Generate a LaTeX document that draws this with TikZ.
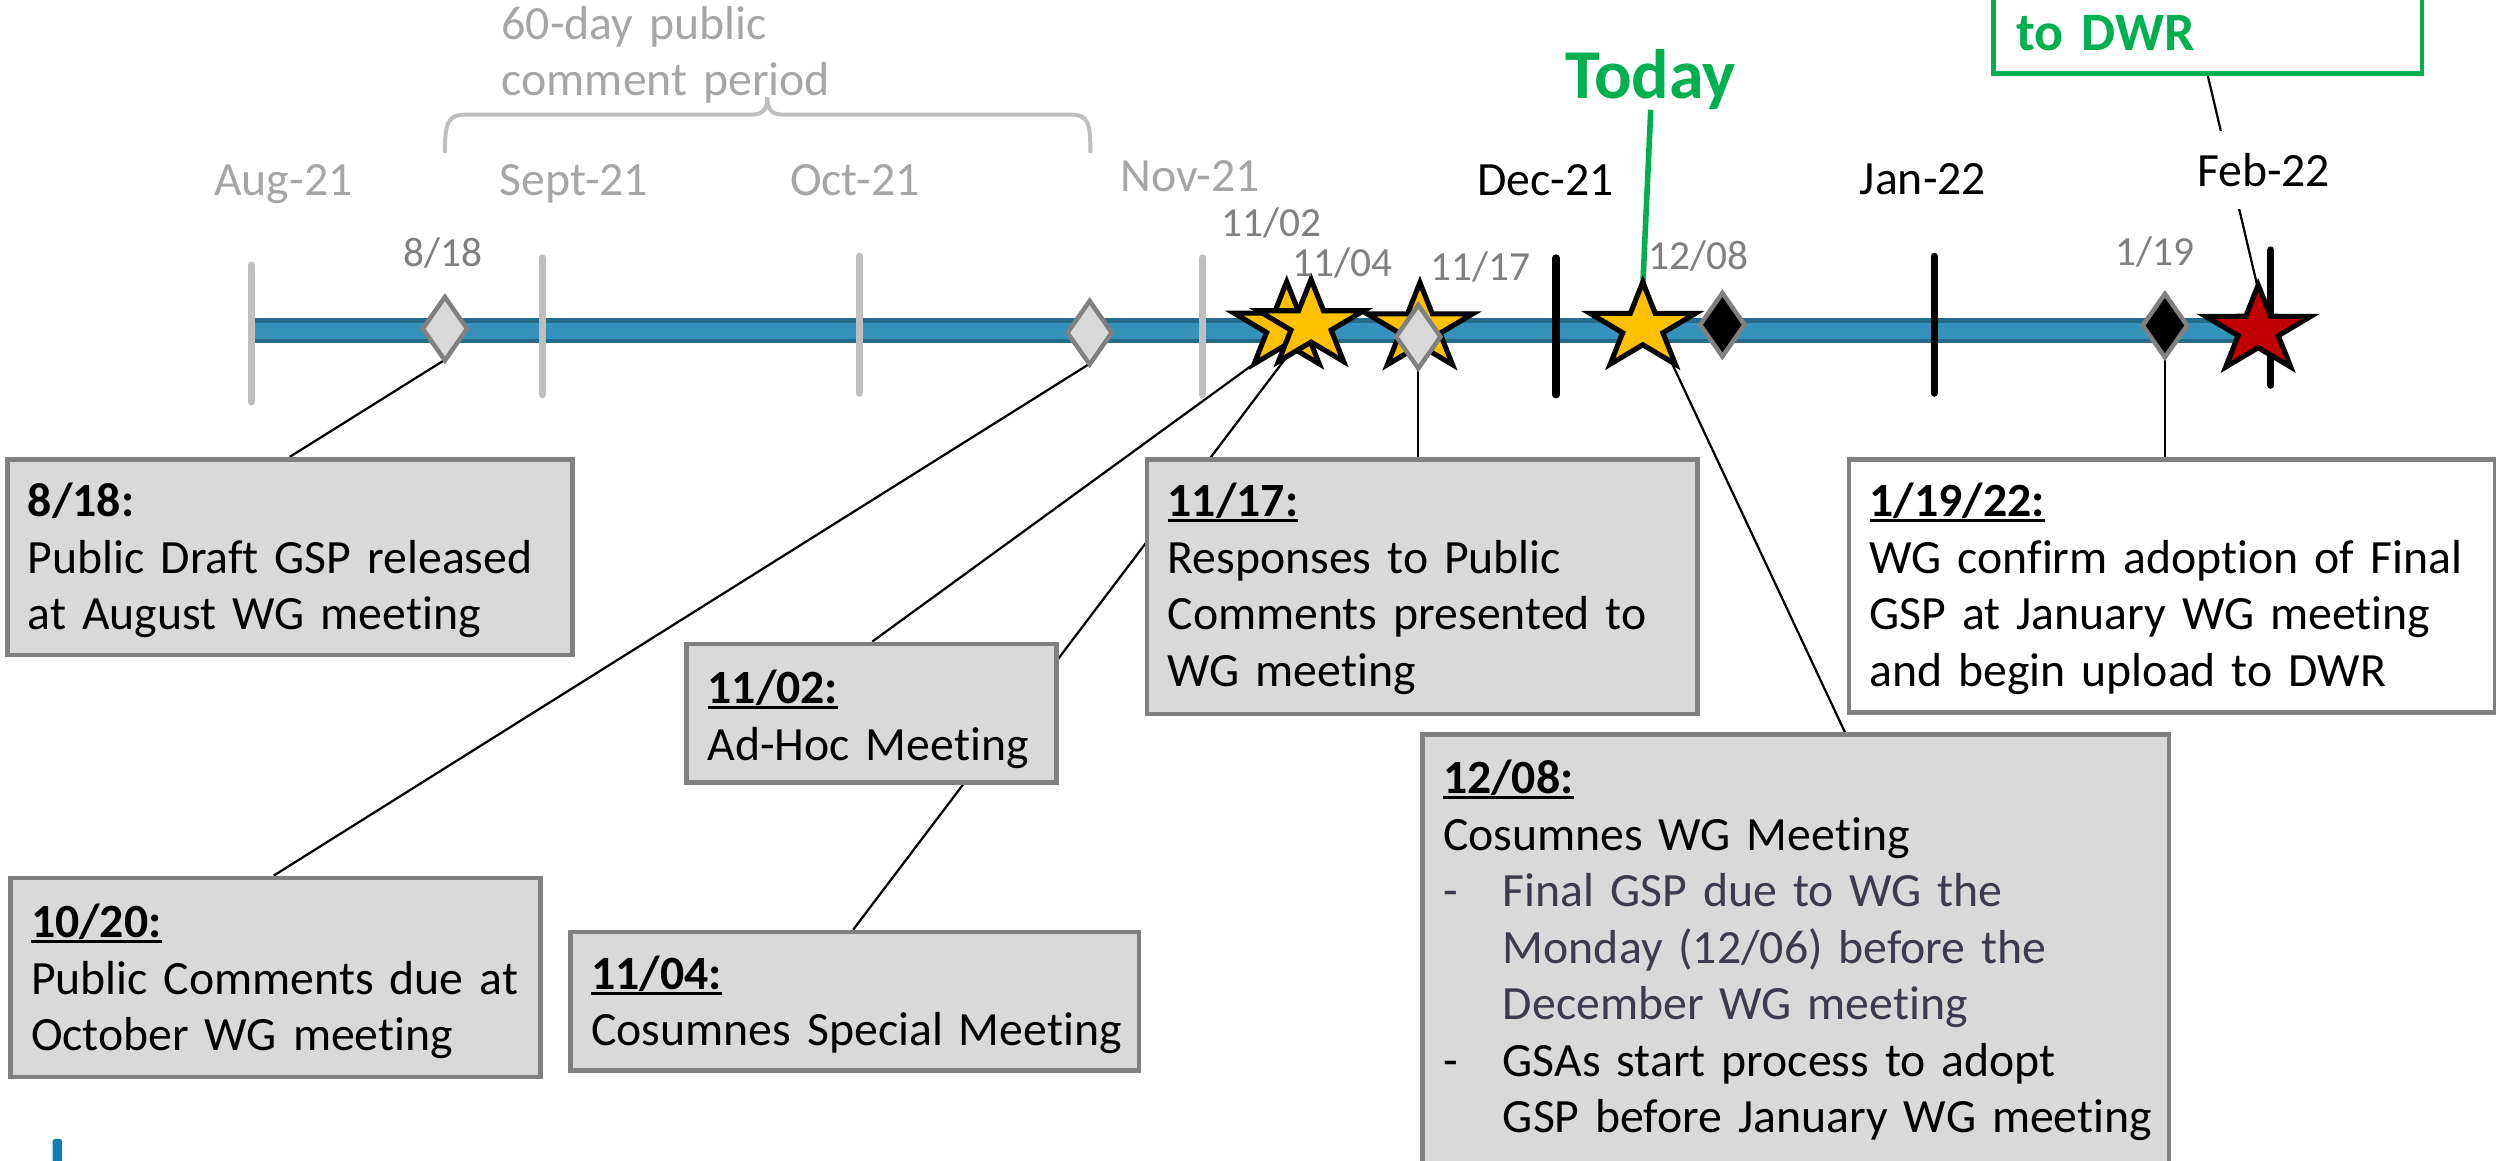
\documentclass[tikz,border=0pt]{standalone}
\usepackage{fontspec}
\setmainfont{Carlito}[Ligatures=NoCommon]
\usetikzlibrary{shapes.geometric,calc}
\definecolor{boxfill}{HTML}{D9D9D9}
\definecolor{boxline}{HTML}{808080}
\definecolor{tickgray}{HTML}{BFBFBF}
\definecolor{monthgray}{HTML}{A6A6A6}
\definecolor{dategray}{HTML}{808080}
\definecolor{todaygreen}{HTML}{00B050}
\definecolor{stargold}{HTML}{FFC000}
\definecolor{starred}{HTML}{C00000}
\definecolor{bardark}{RGB}{38,108,138}
\definecolor{barlight}{RGB}{53,147,187}
\definecolor{bulletcol}{RGB}{59,59,77}
\definecolor{logoblue}{RGB}{20,125,175}
\newcommand{\hdul}[1]{\leavevmode\setbox0\hbox{\textbf{#1}}\rlap{\rule[-3.3pt]{\wd0}{1.7pt}}\box0}
\tikzset{
  boxnode/.style={draw=boxline, line width=3pt, fill=boxfill, anchor=north west, align=left,
    inner xsep=13pt, inner ysep=0pt, font=\fontsize{30}{35.5}\selectfont},
  conn/.style={draw=black, line width=1.4pt},
  tickg/.style={draw=tickgray, line width=4.5pt, line cap=round},
  tickb/.style={draw=black, line width=4.5pt, line cap=round},
  month/.style={anchor=base, inner sep=0pt, font=\fontsize{30}{36}\selectfont, text=monthgray},
  monthdark/.style={month, text=black},
  datelbl/.style={anchor=base, inner sep=0pt, font=\fontsize{26}{30}\selectfont, text=dategray},
  starbase/.style={star, star points=5, star point ratio=2.618, minimum size=57pt, inner sep=0pt,
    draw=black, line width=3.2pt, line join=miter, xscale=1.22, transform shape},
  goldstar/.style={starbase, fill=stargold},
  redstar/.style={starbase, fill=starred},
  diamondbase/.style={diamond, draw=boxline, line width=2.8pt, minimum width=29pt, minimum height=41pt, inner sep=0pt},
  greydiamond/.style={diamondbase, fill=boxfill},
  blackdiamond/.style={diamondbase, fill=black}
}
\begin{document}
\begin{tikzpicture}[x=1pt,y=-1pt]
\useasboundingbox (0,0) rectangle (1568,729);
\clip (0,0) rectangle (1568,729);

% comment period brace and label
\draw[tickgray, line width=2.5pt] (279.5,96) .. controls (279.5,78) and (281,72) .. (292,72) -- (472,72)
  .. controls (479,72) and (482,69) .. (482,61) .. controls (482,69) and (485,72) .. (492,72) -- (673,72)
  .. controls (684,72) and (685,78) .. (685,96);
\node[anchor=base west, text width=230pt, align=left, inner sep=0pt, text=monthgray,
  font=\fontsize{30}{35}\selectfont] (periodlbl) at (315,24.7) {60-day public\\comment period};

% timeline bar
\fill[bardark] (159,200) rectangle (1412,215.7);
\fill[barlight] (159,203.2) rectangle (1412,212.7);

% month ticks
\draw[tickg] (158,166.5) -- (158,252.5);
\draw[tickg] (340.6,162) -- (340.6,248);
\draw[tickg] (540,161) -- (540,247);
\draw[tickg] (755.5,162) -- (755.5,248);
\draw[tickb] (977.5,162) -- (977.5,248);
\draw[tickb] (1215,161) -- (1215,247);
\draw[tickb] (1426.5,157) -- (1426.5,242);

% connector end points
\coordinate (c818) at (182,287);
\coordinate (c1020) at (172,550);
\coordinate (c1102) at (548,403);
\coordinate (c1104) at (536,584);
\coordinate (c1117) at (891,287);
\coordinate (c1208) at (1159,460);
\coordinate (c119) at (1360,287);
\coordinate (cd818) at (279.5,226);
\coordinate (cd1020) at (684.5,228.5);
\coordinate (cd1117) at (891,231);
\coordinate (cd119) at (1360,224);
\coordinate (cs1102) at (788.5,228);
\coordinate (cs1104) at (823.6,204);
\coordinate (cstoday) at (1049.5,226.5);
\coordinate (cstodaytop) at (1032,180);
\coordinate (csredtop) at (1418.6,182);

\draw[conn] (cd818) -- (c818);
\draw[conn] (cd1020) -- (c1020);
\draw[conn] (cs1102) -- (c1102);
\draw[conn] (cs1104) -- (c1104);
\draw[conn] (cd1117) -- (c1117);
\draw[conn] (cstoday) -- (c1208);
\draw[conn] (cd119) -- (c119);

% Today label and line
\node[anchor=base, inner sep=0pt, font=\fontsize{44}{50}\selectfont\bfseries, text=todaygreen] (today) at (1037,61.8) {Today};
\draw[todaygreen, line width=3.5pt] (today.south) -- (cstodaytop);

% green box (clipped at top) and its connector
\node[draw=todaygreen, line width=3pt, fill=white, anchor=south west, align=left, text width=241pt,
  inner xsep=14pt, inner ysep=0pt, text height=130pt, text depth=14.3pt,
  font=\fontsize{34}{40}\selectfont\bfseries, text=todaygreen] (dwrbox) at (1251,47.8) {to DWR};
\draw[conn] (dwrbox.south) -- (csredtop);

% stars and diamonds
\node[shift={(808.3,205.5)}, goldstar] (s1102) at (0,0) {};
\node[shift={(823.6,204)}, goldstar] (s1104) at (0,0) {};
\node[shift={(892,206)}, goldstar] (s1117) at (0,0) {};
\node[shift={(1032,205.7)}, goldstar] (stoday) at (0,0) {};
\node[shift={(1418.6,207.5)}, redstar] (sred) at (0,0) {};
\node[greydiamond] (d818) at (279.5,206.5) {};
\node[greydiamond] (d1020) at (684.5,209) {};
\node[greydiamond] (d1117) at (891,211.5) {};
\node[blackdiamond] (d1208) at (1082,204) {};
\node[blackdiamond] (d119) at (1360,204.5) {};

% boxes
\node[boxnode, text width=329pt, text height=36pt, text depth=87pt] (b818) at (3,287)
  {\textbf{8/18:}\\\mbox{Public Draft GSP released}\\\mbox{at August WG meeting}};
\node[boxnode, text width=307pt, text height=37.5pt, text depth=87.5pt] (b1020) at (5,550)
  {\hdul{10/20:}\\\mbox{Public Comments due at}\\\mbox{October WG meeting}};
\node[boxnode, text width=206pt, text height=37.5pt, text depth=49.5pt] (b1102) at (430,403)
  {\hdul{11/02:}\\\mbox{Ad-Hoc Meeting}};
\node[boxnode, text width=331pt, text height=36pt, text depth=51pt] (b1104) at (357,584)
  {\hdul{11/04:}\\\mbox{Cosumnes Special Meeting}};
\node[boxnode, text width=320pt, text height=36pt, text depth=124pt] (b1117) at (719,287)
  {\hdul{11/17:}\\\mbox{Responses to Public}\\\mbox{Comments presented to}\\\mbox{WG meeting}};
\node[boxnode, fill=white, text width=380pt, text height=36pt, text depth=123pt] (b119) at (1160,287)
  {\hdul{1/19/22:}\\\mbox{WG confirm adoption of Final}\\\mbox{GSP at January WG meeting}\\\mbox{and begin upload to DWR}};
\node[boxnode, text width=443pt, text height=37pt, text depth=263pt] (b1208) at (892,460)
  {\hdul{12/08:}\\\mbox{Cosumnes WG Meeting}\\
   {\color{bulletcol}\mbox{\makebox[37.6pt][l]{-}Final GSP due to WG the}}\\
   {\color{bulletcol}\mbox{\hspace*{37.6pt}Monday (12/06) before the}}\\
   {\color{bulletcol}\mbox{\hspace*{37.6pt}December WG meeting}}\\
   \mbox{\makebox[37.6pt][l]{-}GSAs start process to adopt}\\
   \mbox{\hspace*{37.6pt}GSP before January WG meeting}};

% month labels
\node[month] (maug) at (178,122.5) {Aug-21};
\node[month] (msep) at (360.6,122.5) {Sept-21};
\node[month] (moct) at (537,122.5) {Oct-21};
\node[month] (mnov) at (747.6,120.4) {Nov-21};
\node[monthdark] (mdec) at (971,122.5) {Dec-21};
\node[monthdark] (mjan) at (1208,122) {Jan-22};
\node[monthdark, fill=white, text height=35pt, text depth=14pt, inner xsep=2pt] (mfeb) at (1422,117.3) {Feb-22};

% date labels
\node[datelbl] (l818) at (278,167.5) {8/18};
\node[datelbl] (l1102) at (798.6,148.7) {11/02};
\node[datelbl] (l1104) at (843.5,173.4) {11/04};
\node[datelbl] (l1117) at (930,176) {11/17};
\node[datelbl] (l1208) at (1067,169.6) {12/08};
\node[datelbl] (l119) at (1354,166.5) {1/19};

% logo fragment bottom left
\fill[logoblue, rounded corners=1.5pt] (33,740) rectangle (39,715.5);
\end{tikzpicture}
\end{document}
